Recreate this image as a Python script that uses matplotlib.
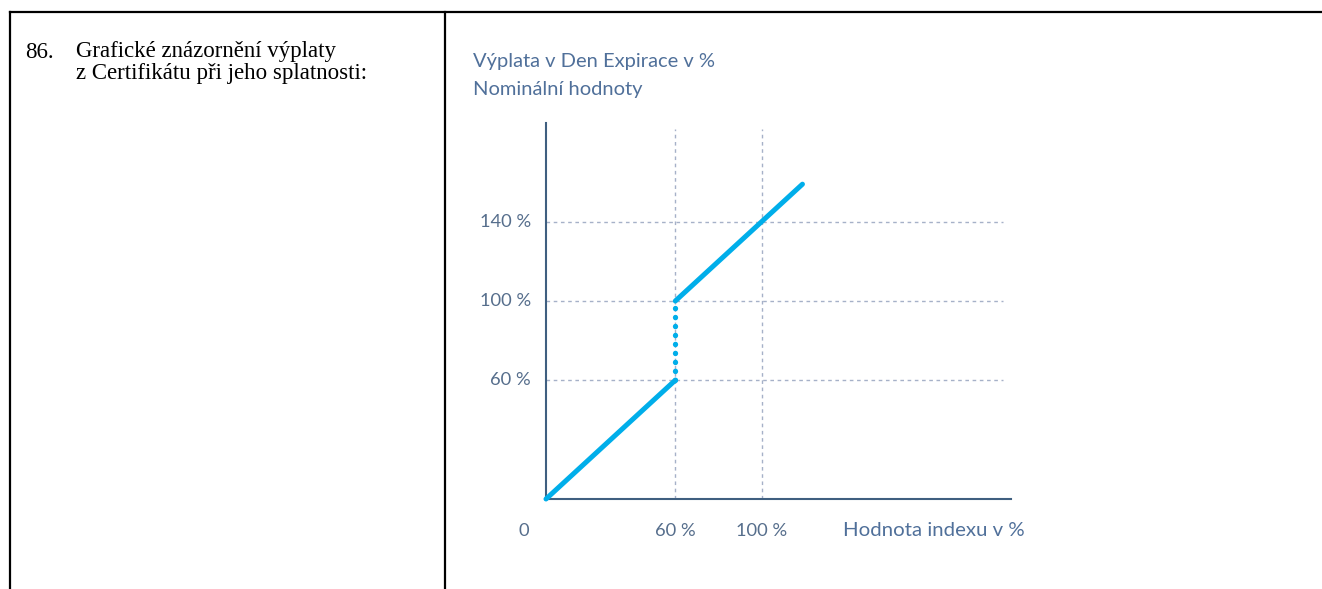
import matplotlib
matplotlib.use("Agg")
import matplotlib.pyplot as plt
from matplotlib.lines import Line2D

# ---- data ----
index_lower = [0, 60]          # underlying index value (%)
payout_lower = [0, 60]         # payout (%)
jump_x = [60, 60]
jump_y = [60, 100]
index_upper = [60, 119]
payout_upper = [100, 159]
y_ticks = [60, 100, 140]
y_tick_labels = ["60 %", "100 %", "140 %"]
x_ticks = [60, 100]
x_tick_labels = ["60 %", "100 %"]
title_lines = ["Výplata v Den Expirace v %", "Nominální hodnoty"]
x_axis_label = "Hodnota indexu v %"
left_number = "86."
left_lines = ["Grafické znázornění výplaty", "z Certifikátu při jeho splatnosti:"]

W, H = 1322, 589
fig = plt.figure(figsize=(W / 100, H / 100), dpi=100)

def fx(px):
    return px / W

def fy(py):
    return 1 - py / H

# table borders
for (x0, y0, x1, y1) in [(10, 12, 1322, 12), (10, 12, 10, 589), (445, 12, 445, 589)]:
    fig.add_artist(Line2D([fx(x0), fx(x1)], [fy(y0), fy(y1)], color="black", lw=1.6,
                          transform=fig.transFigure, solid_capstyle="projecting"))

# left text
serif = ["Liberation Serif", "DejaVu Serif"]
fs_left = 16.5
fig.text(fx(25), fy(52), left_number, family=serif, fontsize=fs_left, va="center", ha="left", color="black")
fig.text(fx(76), fy(52), left_lines[0], family=serif, fontsize=fs_left, va="center", ha="left", color="black")
fig.text(fx(76), fy(74), left_lines[1], family=serif, fontsize=fs_left, va="center", ha="left", color="black")

# chart axes
ox, oy = 546.0, 499.0
sx, sy = 2.155, 1.98
xmax, ymax = 216, 190
ax = fig.add_axes([fx(ox), fy(oy), xmax * sx / W, ymax * sy / H])
ax.set_xlim(0, xmax)
ax.set_ylim(0, ymax)
ax.patch.set_alpha(0)
for s in ["top", "right"]:
    ax.spines[s].set_visible(False)
for s in ["left", "bottom"]:
    ax.spines[s].set_color("#3f5f80")
    ax.spines[s].set_linewidth(1.5)
ax.set_xticks([])
ax.set_yticks([])

grid_c = "#a6b1c8"
ax.hlines(y_ticks, 0, 212, colors=grid_c, linestyles=(0, (2.6, 2.6)), lw=1.0, zorder=1)
ax.vlines(x_ticks, 0, 187, colors=grid_c, linestyles=(0, (2.6, 2.6)), lw=1.0, zorder=1)

line_c = "#00aeea"
ax.plot(index_lower, payout_lower, color=line_c, lw=3.6, solid_capstyle="round", zorder=3, clip_on=False)
ax.plot(index_upper, payout_upper, color=line_c, lw=3.6, solid_capstyle="round", zorder=3, clip_on=False)
ax.plot(jump_x, jump_y, color=line_c, lw=3.8, linestyle=(0, (0.05, 1.65)), dash_capstyle="round", zorder=3)

sans = ["Lato", "DejaVu Sans"]
txt_c = "#50709a"
lab_c = "#566e8c"
fs_tick = 13.2
for v, lab in zip(y_ticks, y_tick_labels):
    y_px = oy - v * sy
    fig.text(fx(531), fy(y_px), lab, family=sans, fontsize=fs_tick, ha="right", va="center", color=lab_c)
fig.text(fx(524), fy(531), "0", family=sans, fontsize=fs_tick, ha="center", va="center", color=lab_c)
for v, lab in zip(x_ticks, x_tick_labels):
    x_px = ox + v * sx
    fig.text(fx(x_px), fy(531), lab, family=sans, fontsize=fs_tick, ha="center", va="center", color=lab_c)
fig.text(fx(843), fy(531), x_axis_label, family=sans, fontsize=14.7, ha="left", va="center", color=txt_c)

fig.text(fx(473), fy(62), title_lines[0], family=sans, fontsize=14.5, ha="left", va="center", color=txt_c)
fig.text(fx(473), fy(89), title_lines[1], family=sans, fontsize=14.5, ha="left", va="center", color=txt_c)

fig.savefig("out.png", dpi=100)
